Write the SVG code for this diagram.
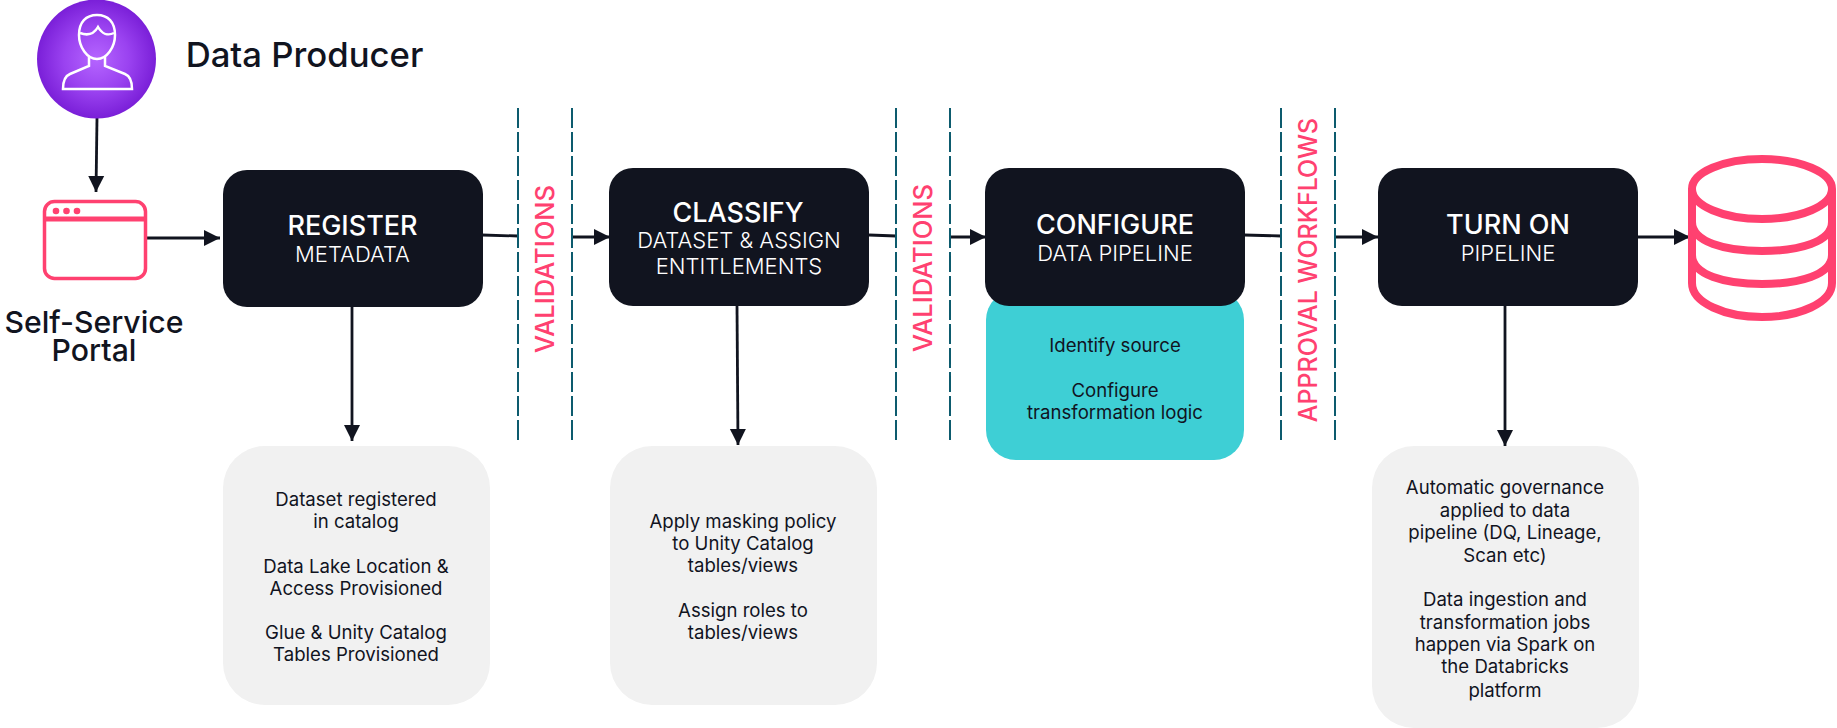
<svg xmlns="http://www.w3.org/2000/svg" width="1837" height="728" viewBox="0 0 1837 728">
<style>
text{font-family:Inter,"Liberation Sans",sans-serif;text-anchor:middle}
.box{fill:#11141f}
.t{font-size:27px;font-weight:500;fill:#fff}
.s{font-size:22px;font-weight:300;fill:#fff}
.g{fill:#f1f1f1}
.b{font-size:18.600px;fill:#11141f}
.l{font-size:30.200px;font-weight:500;fill:#11141f}
.v{font-size:25.500px;font-weight:500;fill:#ff4170}
.c{fill:none;stroke:#11141f;stroke-width:2.800}
.d{stroke:#0d5b6e;stroke-width:2;stroke-dasharray:20 4;fill:none}
.p{fill:none;stroke:#ff4170}
</style>
<defs>
<radialGradient id="rg"><stop offset="0" stop-color="#b565ff"/><stop offset="0.55" stop-color="#9a42f0"/><stop offset="1" stop-color="#7a1fd8"/></radialGradient>
<marker id="a" markerUnits="userSpaceOnUse" markerWidth="17" markerHeight="17" refX="16" refY="8.500" orient="auto"><path d="M0 0.500L16 8.500L0 16.500Z" fill="#11141f"/></marker>
</defs>
<g id="connectors">
<path class="c" d="M97 118L96 192" marker-end="url(#a)"/>
<path class="c" d="M147 238H220" marker-end="url(#a)"/>
<path class="c" d="M482 235L518 236"/>
<path class="c" d="M572 237H610" marker-end="url(#a)"/>
<path class="c" d="M869 235L896 236"/>
<path class="c" d="M950 237H986" marker-end="url(#a)"/>
<path class="c" d="M1244 235L1281 236"/>
<path class="c" d="M1335 237H1378" marker-end="url(#a)"/>
<path class="c" d="M1637 237H1690" marker-end="url(#a)"/>
<path class="c" d="M352 306V441" marker-end="url(#a)"/>
<path class="c" d="M737 306L738 445" marker-end="url(#a)"/>
<path class="c" d="M1505 306V446" marker-end="url(#a)"/>
</g>
<g id="dividers">
<path class="d" d="M518 108V440"/><path class="d" d="M572 108V440"/>
<path class="d" d="M896 108V440"/><path class="d" d="M950 108V440"/>
<path class="d" d="M1281 108V440"/><path class="d" d="M1335 108V440"/>
</g>
<g id="producer">
<circle cx="96.500" cy="59" r="59.500" fill="url(#rg)"/>
<g fill="none" stroke="#fff" stroke-width="2.500">
<path d="M79 35C79 22 86 15 97 15C108 15 115 22 115 35C115 47 107 59 97 59C87 59 79 47 79 35Z"/>
<path d="M80 33C88 36 94 34 98 27C102 34 108 36 114 33"/>
<path d="M89 57V66L70 74C65 76 63 82 63 89H132C132 82 130 76 125 74L105 66V57"/>
</g>
<text class="l" x="304.500" y="67" style="font-size:34.700px">Data Producer</text>
</g>
<g id="portal">
<rect class="p" x="44.500" y="201.500" width="101" height="77" rx="10" stroke-width="3.500"/>
<path class="p" d="M44 219H146" stroke-width="5"/>
<circle cx="56" cy="211" r="3.300" fill="#ff4170"/><circle cx="66.500" cy="211" r="3.300" fill="#ff4170"/><circle cx="77" cy="211" r="3.300" fill="#ff4170"/>
<text class="l" x="94" y="333">Self-Service</text><text class="l" x="94" y="361">Portal</text>
</g>
<g id="register">
<rect class="box" x="223" y="170" width="260" height="137" rx="24"/>
<text class="t" x="352.500" y="235">REGISTER</text><text class="s" x="352.500" y="262">METADATA</text>
</g>
<g id="register-note">
<rect class="g" x="223" y="446" width="267" height="259" rx="42"/>
<text class="b"><tspan x="356" y="506">Dataset registered</tspan><tspan x="356" y="528">in catalog</tspan><tspan x="356" y="573">Data Lake Location &amp;</tspan><tspan x="356" y="595">Access Provisioned</tspan><tspan x="356" y="639">Glue &amp; Unity Catalog</tspan><tspan x="356" y="661">Tables Provisioned</tspan></text>
</g>
<g id="classify">
<rect class="box" x="609" y="168" width="260" height="138" rx="24"/>
<text class="t" x="738" y="222">CLASSIFY</text><text class="s" x="739" y="248">DATASET &amp; ASSIGN</text><text class="s" x="739" y="274">ENTITLEMENTS</text>
</g>
<g id="classify-note">
<rect class="g" x="610" y="446" width="267" height="259" rx="42"/>
<text class="b"><tspan x="743" y="528">Apply masking policy</tspan><tspan x="743" y="550">to Unity Catalog</tspan><tspan x="743" y="572">tables/views</tspan><tspan x="743" y="617">Assign roles to</tspan><tspan x="743" y="639">tables/views</tspan></text>
</g>
<g id="configure-note">
<rect x="986" y="290" width="258" height="170" rx="30" fill="#3ecfd5"/>
<text class="b"><tspan x="1115" y="352">Identify source</tspan><tspan x="1115" y="397">Configure</tspan><tspan x="1115" y="419">transformation logic</tspan></text>
</g>
<g id="configure">
<rect class="box" x="985" y="168" width="260" height="138" rx="24"/>
<text class="t" x="1115" y="234">CONFIGURE</text><text class="s" x="1115" y="261">DATA PIPELINE</text>
</g>
<g id="turnon">
<rect class="box" x="1378" y="168" width="260" height="138" rx="24"/>
<text class="t" x="1508" y="234">TURN ON</text><text class="s" x="1508" y="261">PIPELINE</text>
</g>
<g id="turnon-note">
<rect class="g" x="1372" y="446" width="267" height="282" rx="42"/>
<text class="b"><tspan x="1505" y="494">Automatic governance</tspan><tspan x="1505" y="517">applied to data</tspan><tspan x="1505" y="539">pipeline (DQ, Lineage,</tspan><tspan x="1505" y="562">Scan etc)</tspan><tspan x="1505" y="606">Data ingestion and</tspan><tspan x="1505" y="629">transformation jobs</tspan><tspan x="1505" y="651">happen via Spark on</tspan><tspan x="1505" y="673">the Databricks</tspan><tspan x="1505" y="697">platform</tspan></text>
</g>
<g id="validations-1"><text class="v" transform="translate(554 269) rotate(-90)">VALIDATIONS</text></g>
<g id="validations-2"><text class="v" transform="translate(932 268) rotate(-90)">VALIDATIONS</text></g>
<g id="approval"><text class="v" style="font-size:25px" transform="translate(1317 270) rotate(-90)">APPROVAL WORKFLOWS</text></g>
<g id="database" fill="none" stroke="#ff4170" stroke-width="8">
<ellipse cx="1762" cy="189" rx="70" ry="30"/>
<path d="M1692 189V283C1692 303 1725 317 1762 317C1799 317 1832 303 1832 283V189"/>
<path d="M1692 222C1692 242 1725 251 1762 251C1799 251 1832 242 1832 222"/>
<path d="M1692 255C1692 275 1725 284 1762 284C1799 284 1832 275 1832 255"/>
</g>
</svg>
